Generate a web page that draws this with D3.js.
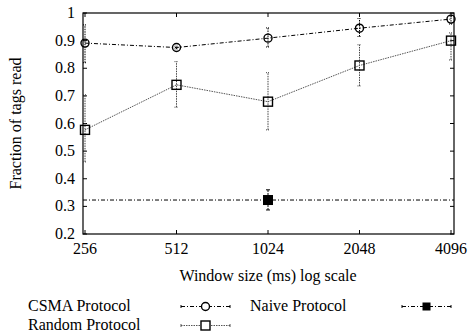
<!DOCTYPE html>
<html>
<head>
<meta charset="utf-8">
<script src="https://cdn.jsdelivr.net/npm/d3@7.9.0/dist/d3.min.js"></script>
<style>
  body { margin: 0; background: #fff; }
  svg { display: block; }
</style>
</head>
<body>
<svg width="469" height="334"></svg>
<script>
// window sizes (ms)
const windows = [256, 512, 1024, 2048, 4096];
const yTicks = [0.2, 0.3, 0.4, 0.5, 0.6, 0.7, 0.8, 0.9, 1];

// CSMA protocol: mean, low, high
const csma = [0.891, 0.875, 0.909, 0.945, 0.978];
const csmaLo = [0.82, 0.87, 0.877, 0.915, 0.96];
const csmaHi = [0.957, 0.88, 0.946, 0.98, 0.99];

// Random protocol
const random = [0.577, 0.74, 0.679, 0.81, 0.9];
const randomLo = [0.461, 0.659, 0.577, 0.736, 0.83];
const randomHi = [0.704, 0.824, 0.784, 0.885, 0.928];

// Naive protocol (single measurement at 1024)
const naiveX = 1024;
const naive = 0.323;
const naiveLo = 0.287;
const naiveHi = 0.36;

const svg = d3.select('svg');
const pLeft = 83, pRight = 454, pTop = 13, pBottom = 234;
const fs = 16;
const font = "'Liberation Serif'";

function label(sel) {
  return sel.append('text').attr('font-family', font).attr('font-size', fs).attr('fill', '#000');
}

let x = d3.scaleLog().base(2)
  .domain([256 * Math.pow(2, -2 / 91.5), 4096 * Math.pow(2, 3 / 91.5)])
  .range([pLeft, pRight]);
let y = d3.scaleLinear().domain([0.2, 1]).range([pBottom, pTop]);

const g = svg.append('g');

// ticks (mirrored, inward)
yTicks.forEach((t) => {
  g.append('line').attr('x1', pLeft).attr('x2', pLeft + 4).attr('y1', y(t)).attr('y2', y(t)).attr('stroke', '#000');
  g.append('line').attr('x1', pRight).attr('x2', pRight - 4).attr('y1', y(t)).attr('y2', y(t)).attr('stroke', '#000');
  label(g).attr('x', pLeft - 8).attr('y', y(t) + 5)
    .attr('text-anchor', 'end').text(t === 1 ? '1' : t.toFixed(1));
});
windows.forEach((w) => {
  g.append('line').attr('x1', x(w)).attr('x2', x(w)).attr('y1', pBottom).attr('y2', pBottom - 4).attr('stroke', '#000');
  g.append('line').attr('x1', x(w)).attr('x2', x(w)).attr('y1', pTop).attr('y2', pTop + 4).attr('stroke', '#000');
  label(g).attr('x', x(w)).attr('y', pBottom + 20)
    .attr('text-anchor', 'middle').text(w);
});

// frame
g.append('rect').attr('x', pLeft).attr('y', pTop).attr('width', pRight - pLeft).attr('height', pBottom - pTop)
  .attr('fill', 'none').attr('stroke', '#000').attr('stroke-width', 1.2);

// axis labels
label(svg).attr('transform', `translate(21,${(pTop + pBottom) / 2}) rotate(-90)`)
  .attr('text-anchor', 'middle').text('Fraction of tags read');
label(svg).attr('x', 268).attr('y', 281)
  .attr('text-anchor', 'middle').text('Window size (ms) log scale');

const dashDot = '4,2,1,2';
const dotted = '1.5,1';

// naive horizontal line
g.append('line').attr('x1', pLeft).attr('x2', pRight).attr('y1', y(naive)).attr('y2', y(naive))
  .attr('stroke', '#000').attr('stroke-dasharray', dashDot);

function errorBars(lo, hi, color) {
  windows.forEach((w, i) => {
    g.append('line').attr('x1', x(w)).attr('x2', x(w)).attr('y1', y(lo[i])).attr('y2', y(hi[i]))
      .attr('stroke', color).attr('stroke-dasharray', '1.5,1');
    [lo[i], hi[i]].forEach((v) => {
      g.append('line').attr('x1', x(w) - 2).attr('x2', x(w) + 2).attr('y1', y(v)).attr('y2', y(v))
        .attr('stroke', color).attr('stroke-dasharray', '1,1');
    });
  });
}

errorBars(csmaLo, csmaHi, '#000');
errorBars(randomLo, randomHi, '#444');

let line = d3.line().x((d) => x(d[0])).y((d) => y(d[1]));

g.append('path').attr('d', line(windows.map((w, i) => [w, csma[i]])))
  .attr('fill', 'none').attr('stroke', '#000').attr('stroke-dasharray', dashDot);
g.append('path').attr('d', line(windows.map((w, i) => [w, random[i]])))
  .attr('fill', 'none').attr('stroke', '#555').attr('stroke-dasharray', dotted);

// markers
windows.forEach((w, i) => {
  g.append('circle').attr('cx', x(w)).attr('cy', y(csma[i])).attr('r', 4)
    .attr('fill', 'none').attr('stroke', '#000').attr('stroke-width', 1.4);
  g.append('rect').attr('x', x(w) - 4.5).attr('y', y(random[i]) - 4.5).attr('width', 9).attr('height', 9)
    .attr('fill', 'none').attr('stroke', '#000').attr('stroke-width', 1.4);
});

// naive point + error
g.append('line').attr('x1', x(naiveX)).attr('x2', x(naiveX)).attr('y1', y(naiveLo)).attr('y2', y(naiveHi))
  .attr('stroke', '#000').attr('stroke-dasharray', '2,1');
[naiveLo, naiveHi].forEach((v) => {
  g.append('line').attr('x1', x(naiveX) - 2).attr('x2', x(naiveX) + 2).attr('y1', y(v)).attr('y2', y(v)).attr('stroke', '#000');
});
g.append('rect').attr('x', x(naiveX) - 5).attr('y', y(naive) - 5).attr('width', 10).attr('height', 10).attr('fill', '#000');

// legend
const legend = svg.append('g');
const items = [
  { label: 'CSMA Protocol', tx: 28, ty: 311, lx: 181, lw: 49, dash: dashDot, color: '#000', mark: 'circle' },
  { label: 'Random Protocol', tx: 28, ty: 330, lx: 181, lw: 49, dash: dotted, color: '#555', mark: 'square' },
  { label: 'Naive Protocol', tx: 250, ty: 311, lx: 402, lw: 49, dash: dashDot, color: '#000', mark: 'filled' },
];
items.forEach((d) => {
  label(legend).attr('x', d.tx).attr('y', d.ty).text(d.label);
  const ly = d.ty - 4.5;
  legend.append('line').attr('x1', d.lx).attr('x2', d.lx + d.lw).attr('y1', ly).attr('y2', ly)
    .attr('stroke', d.color).attr('stroke-dasharray', d.dash);
  [d.lx, d.lx + d.lw].forEach((ex) => {
    legend.append('line').attr('x1', ex).attr('x2', ex).attr('y1', ly - 1.5).attr('y2', ly + 1.5).attr('stroke', d.color);
  });
  const cx = d.lx + d.lw / 2;
  if (d.mark === 'circle') {
    legend.append('circle').attr('cx', cx).attr('cy', ly).attr('r', 4)
      .attr('fill', '#fff').attr('stroke', '#000').attr('stroke-width', 1.4);
  } else if (d.mark === 'square') {
    legend.append('rect').attr('x', cx - 4.5).attr('y', ly - 4.5).attr('width', 9).attr('height', 9)
      .attr('fill', '#fff').attr('stroke', '#000').attr('stroke-width', 1.4);
  } else {
    legend.append('rect').attr('x', cx - 4).attr('y', ly - 4).attr('width', 8).attr('height', 8).attr('fill', '#000');
  }
});
</script>
</body>
</html>
